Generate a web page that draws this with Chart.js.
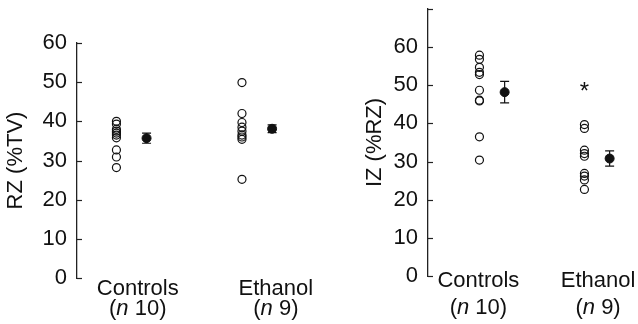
<!DOCTYPE html>
<html>
<head>
<meta charset="UTF-8">
<title>RZ and IZ, controls vs ethanol</title>
<script src="https://cdn.jsdelivr.net/npm/chart.js"></script>
<style>
  body { margin: 0; background: #fff; }
  .panel { position: absolute; top: 0; }
</style>
</head>
<body>
<div class="panel" style="left:0"><canvas id="rz" width="320" height="324"></canvas></div>
<div class="panel" style="left:320px"><canvas id="iz" width="318" height="324"></canvas></div>
<script>
// groups
const groups = ['Controls', 'Ethanol'];
const groupN = ['10', '9'];

// RZ (%TV), individual values and mean +- SE
const rzControls = [40.0, 39.3, 38.0, 37.5, 37.0, 36.5, 35.8, 32.7, 30.9, 28.2];
const rzEthanol = [49.9, 42.0, 39.7, 38.5, 37.5, 36.5, 36.0, 35.4, 25.2];
const rzMean = [35.7, 38.1];
const rzSE = [1.3, 1.0];
const rzTicks = [0, 10, 20, 30, 40, 50, 60];
const rzTickMarks = [0, 10, 20, 30, 40, 50, 60];

// IZ (%RZ)
const izControls = [57.9, 56.8, 54.7, 53.4, 52.8, 48.7, 46.1, 45.9, 36.5, 30.4];
const izEthanol = [39.7, 38.7, 33.0, 32.1, 31.4, 26.9, 26.2, 25.2, 22.7];
const izMean = [48.2, 30.8];
const izSE = [2.8, 2.0];
const izSignif = [false, true];
const izStarValue = 50;
const izTicks = [0, 10, 20, 30, 40, 50, 60];
const izTickMarks = [0, 10, 20, 30, 40, 50, 60, 70];

const FONT = "'Liberation Sans', Arial, Helvetica, sans-serif";
const SIZE = 22;
const SHIFT = 0.12; // circles left of group, mean right of group

const extras = {
  id: 'extras',
  beforeDatasetsDraw(chart, args, o) {
    const {ctx, scales: {x, y}} = chart;
    ctx.save();
    ctx.strokeStyle = '#111';
    ctx.lineWidth = 1.2;
    o.mean.forEach((m, i) => {
      const px = x.getPixelForValue(i + 1 + SHIFT);
      const t = y.getPixelForValue(m + o.se[i]);
      const b = y.getPixelForValue(m - o.se[i]);
      ctx.beginPath();
      ctx.moveTo(px, t); ctx.lineTo(px, b);
      ctx.moveTo(px - 4.5, t); ctx.lineTo(px + 4.5, t);
      ctx.moveTo(px - 4.5, b); ctx.lineTo(px + 4.5, b);
      ctx.stroke();
    });
    ctx.restore();
  },
  afterDraw(chart, args, o) {
    const {ctx, chartArea, scales: {x, y}} = chart;
    ctx.save();
    // inward tick marks
    ctx.strokeStyle = '#222';
    ctx.lineWidth = 1.2;
    o.tickMarks.forEach(v => {
      const py = Math.round(y.getPixelForValue(v)) + 0.5;
      ctx.beginPath();
      ctx.moveTo(chartArea.left, py);
      ctx.lineTo(chartArea.left + 5, py);
      ctx.stroke();
    });
    // group labels
    ctx.fillStyle = '#111';
    ctx.textBaseline = 'middle';
    const up = SIZE + 'px ' + FONT, it = 'italic ' + SIZE + 'px ' + FONT;
    groups.forEach((g, i) => {
      const cx = x.getPixelForValue(o.labelAt[i]);
      ctx.font = up;
      ctx.textAlign = 'center';
      ctx.fillText(g, cx, o.line1);
      const a = '(', b = 'n', c = ' ' + groupN[i] + ')';
      const wa = ctx.measureText(a).width, wc = ctx.measureText(c).width;
      ctx.font = it;
      const wb = ctx.measureText(b).width;
      const sx = cx - (wa + wb + wc) / 2;
      ctx.textAlign = 'left';
      ctx.font = up;
      ctx.fillText(a, sx, o.line2);
      ctx.font = it;
      ctx.fillText(b, sx + wa, o.line2);
      ctx.font = up;
      ctx.fillText(c, sx + wa + wb, o.line2);
    });
    // significance marks
    if (o.signif) {
      ctx.font = '24px ' + FONT;
      ctx.textAlign = 'center';
      ctx.textBaseline = 'alphabetic';
      o.signif.forEach((s, i) => {
        if (!s) return;
        const px = x.getPixelForValue(i + 1 - SHIFT);
        const py = y.getPixelForValue(o.starValue);
        ctx.fillText('*', px, py + 14);
      });
    }
    ctx.restore();
  }
};

function makePanel(id, p) {
  const circles = p.values.flatMap((vals, i) => vals.map(v => ({x: i + 1 - SHIFT, y: v})));
  const means = p.mean.map((m, i) => ({x: i + 1 + SHIFT, y: m}));
  return new Chart(document.getElementById(id), {
    type: 'scatter',
    data: {
      datasets: [
        {data: means, pointRadius: 4.5, pointBackgroundColor: '#111', pointBorderColor: '#111', pointBorderWidth: 1},
        {data: circles, pointRadius: 4, pointBackgroundColor: 'rgba(255,255,255,0)', pointBorderColor: '#111', pointBorderWidth: 1.2}
      ]
    },
    options: {
      responsive: false,
      animation: false,
      devicePixelRatio: 1,
      layout: {padding: {top: p.top, right: p.right, bottom: 0, left: 0}},
      plugins: {
        legend: {display: false},
        tooltip: {enabled: false},
        extras: {mean: p.mean, se: p.se, labelAt: p.labelAt, line1: p.line1, line2: p.line2,
                 signif: p.signif, starValue: p.starValue, tickMarks: p.tickMarks}
      },
      scales: {
        x: {
          type: 'linear', min: p.xMin, max: p.xMax,
          grid: {display: false}, border: {display: false},
          ticks: {display: false},
          afterFit: s => { s.height = p.bottomH; s.paddingLeft = 0; s.paddingRight = 0; }
        },
        y: {
          min: 0, max: p.yMax,
          grid: {display: false, drawTicks: false},
          border: {display: true, color: '#222', width: 1.3},
          afterBuildTicks: s => { s.ticks = p.ticks.map(v => ({value: v})); },
          ticks: {
            padding: 10, color: '#111',
            font: {family: FONT, size: SIZE}
          },
          title: {display: true, text: p.title, color: '#111',
                  font: {family: FONT, size: SIZE}, padding: {top: p.titlePad, bottom: 0}},
          afterFit: s => { s.width = p.axisW; s.paddingTop = 0; s.paddingBottom = 0; }
        }
      }
    },
    plugins: [extras]
  });
}

makePanel('rz', {
  values: [rzControls, rzEthanol], mean: rzMean, se: rzSE,
  ticks: rzTicks, tickMarks: rzTickMarks,
  title: 'RZ (%TV)', yMax: 60, top: 43, right: 14, bottomH: 46, axisW: 77, titlePad: 3,
  xMin: 0.566, xMax: 2.39, labelAt: [1.05, 2.15], line1: 289, line2: 309
});

makePanel('iz', {
  values: [izControls, izEthanol], mean: izMean, se: izSE,
  ticks: izTicks, tickMarks: izTickMarks,
  title: 'IZ (%RZ)', yMax: 70, top: 9, right: 10, bottomH: 48, axisW: 108, titlePad: 42,
  xMin: 0.39, xMax: 2.295, labelAt: [0.87, 2.01], line1: 281, line2: 308,
  signif: izSignif, starValue: izStarValue
});
</script>
</body>
</html>
